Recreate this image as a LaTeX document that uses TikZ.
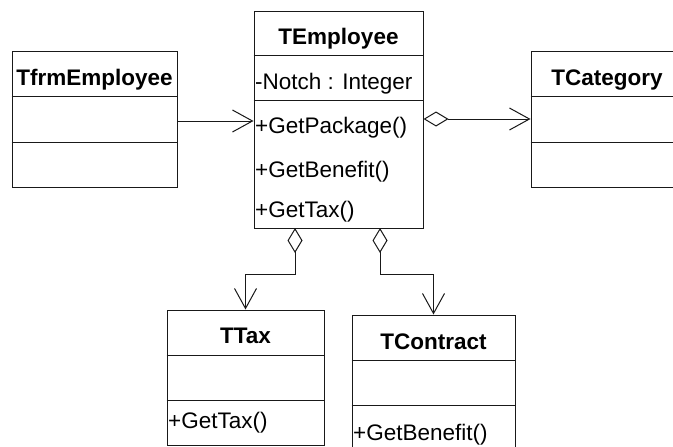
\documentclass[tikz,border=0pt]{standalone}
\usepackage{fontspec}
\setmainfont{Liberation Sans}
\usetikzlibrary{arrows.meta}
\tikzset{
  cls/.style={draw=black!90, line width=1pt, fill=white, inner sep=0pt, minimum width=#1},
  title/.style={anchor=base, inner sep=0pt, font=\fontsize{22.5}{27}\selectfont\bfseries},
  member/.style={anchor=base west, inner sep=0pt, font=\fontsize{22.5}{27}\selectfont},
  divider/.style={draw=black!90, line width=1pt},
  assoc/.style={draw=black!90, line width=1pt, -{Straight Barb[length=20pt,width=22pt,line width=1pt]}},
  agg/.style={draw=black!90, line width=1pt, {Diamond[open,length=25pt,width=15pt,line width=1pt]}-{Straight Barb[length=20pt,width=22pt,line width=1pt]}}
}
\begin{document}
\begin{tikzpicture}[x=1pt,y=-1pt]
\useasboundingbox (0,0) rectangle (673,447);
\clip (0,0) rectangle (673,447);

% TfrmEmployee
\node[cls=165pt, minimum height=136pt] (frm) at (94.5,119) {};
\draw[divider] (frm.west |- 0,96) -- (frm.east |- 0,96);
\draw[divider] (frm.west |- 0,142) -- (frm.east |- 0,142);
\node[title] (frmT) at (94.5,85) {TfrmEmployee};

% TEmployee
\node[cls=169pt, minimum height=217pt] (emp) at (338.5,119.5) {};
\draw[divider] (emp.west |- 0,55) -- (emp.east |- 0,55);
\draw[divider] (emp.west |- 0,100) -- (emp.east |- 0,100);
\node[title] (empT) at (338.5,45) {TEmployee};
\node[member] (empA) at (255,89) {-Notch : Integer};
\node[member] (empM1) at (255,133) {+GetPackage()};
\node[member] (empM2) at (255,177) {+GetBenefit()};
\node[member] (empM3) at (255,217) {+GetTax()};

% TCategory
\node[cls=152pt, minimum height=136pt] (cat) at (607,119) {};
\draw[divider] (cat.west |- 0,96) -- (cat.east |- 0,96);
\draw[divider] (cat.west |- 0,142) -- (cat.east |- 0,142);
\node[title] (catT) at (607,85) {TCategory};

% TTax
\node[cls=157pt, minimum height=135pt] (tax) at (245.5,377.5) {};
\draw[divider] (tax.west |- 0,355) -- (tax.east |- 0,355);
\draw[divider] (tax.west |- 0,400) -- (tax.east |- 0,400);
\node[title] (taxT) at (245.5,343) {TTax};
\node[member] (taxM) at (168,428) {+GetTax()};

% TContract
\node[cls=163pt, minimum height=135pt] (con) at (433.5,382.5) {};
\draw[divider] (con.west |- 0,360) -- (con.east |- 0,360);
\draw[divider] (con.west |- 0,405) -- (con.east |- 0,405);
\node[title] (conT) at (433.5,349) {TContract};
\node[member] (conM) at (353,440) {+GetBenefit()};

% connectors
\coordinate (frmOut) at (frm.east |- 0,121);
\draw[assoc] (frmOut) -- (frmOut -| emp.west);
\draw[agg] (cat.west -| emp.east) -- (cat.west);
\coordinate (taxOut) at (295,228);
\draw[agg] (taxOut) -- ++(0,46) -| (tax.north);
\coordinate (conOut) at (380,228);
\draw[agg] (conOut) -- ++(0,46) -| (con.north);
\end{tikzpicture}
\end{document}
